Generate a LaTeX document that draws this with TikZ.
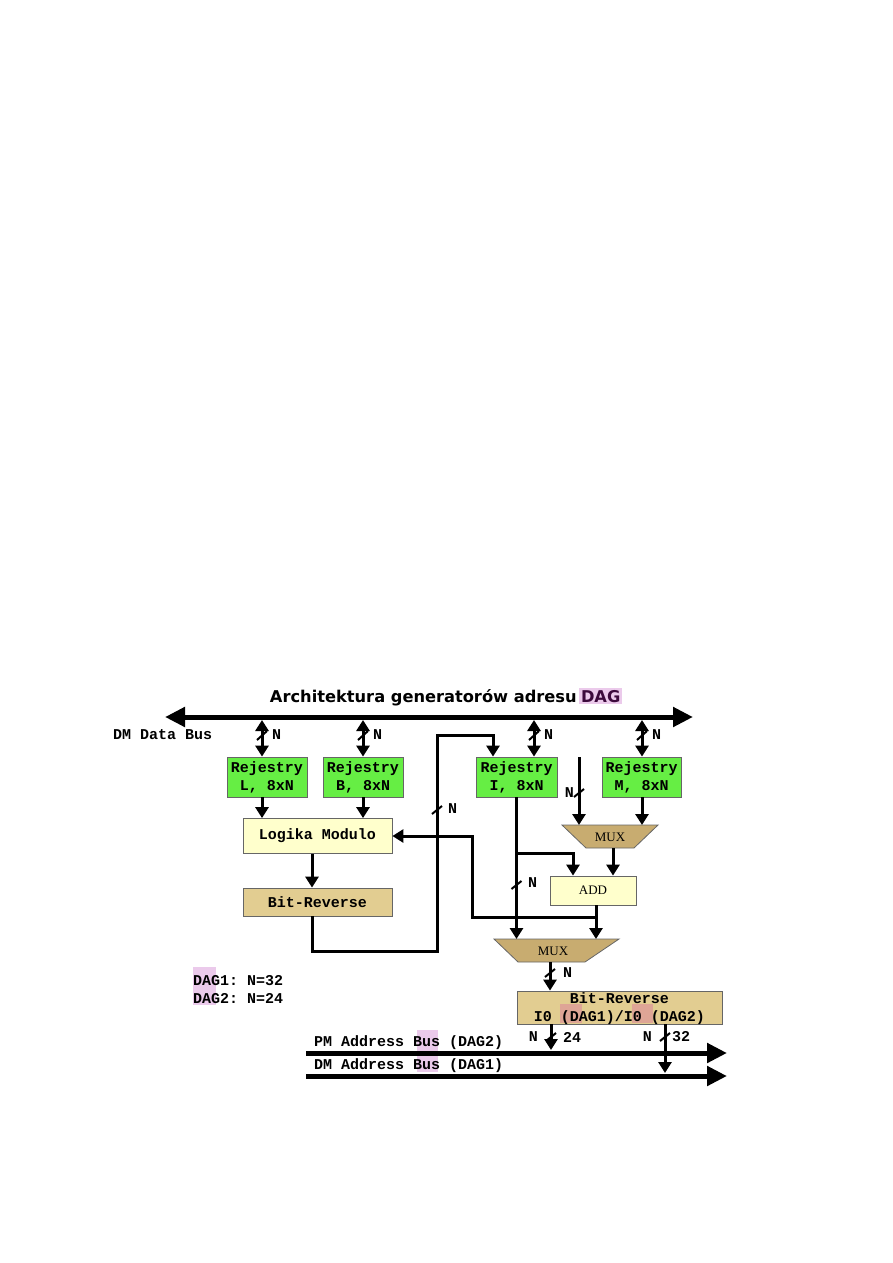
\documentclass[tikz,border=0pt]{standalone}
\usepackage{fontspec}
\usepackage{graphicx}
\setmainfont{Liberation Serif}
\setmonofont{Liberation Mono}
\newfontfamily\titlefont{DejaVu Sans}
\usetikzlibrary{arrows.meta}
\definecolor{rgreen}{RGB}{102,238,68}
\definecolor{lyellow}{RGB}{255,255,204}
\definecolor{tanlight}{RGB}{226,205,145}
\definecolor{muxtan}{RGB}{200,172,112}
\definecolor{hl}{RGB}{235,202,235}
\definecolor{hlb}{RGB}{222,165,150}
\definecolor{dagtext}{RGB}{60,10,60}
\begin{document}
\begin{tikzpicture}[x=1pt,y=-1pt,
  mono/.style={font=\ttfamily\bfseries\fontsize{15}{18}\selectfont, inner sep=0pt},
  serif/.style={font=\rmfamily\fontsize{13}{15}\selectfont, inner sep=0pt},
  boxst/.style={draw=black!60, line width=0.8pt, inner sep=0pt, align=center},
  reg/.style={boxst, mono, fill=rgreen, minimum height=40pt},
  yel/.style={boxst, fill=lyellow},
  tanbox/.style={boxst, fill=tanlight},
  muxst/.style={draw=black!60, line width=0.8pt, fill=muxtan},
  ln/.style={line width=3pt},
  arr/.style={line width=3pt, -{Triangle[length=11pt,width=13pt]}},
  bi/.style={line width=3pt, {Triangle[length=11pt,width=13pt]}-{Triangle[length=11pt,width=13pt]}},
  bus/.style={line width=5pt, -{Triangle[length=20pt,width=19pt]}},
  bibus/.style={line width=5pt, {Triangle[length=20pt,width=19pt]}-{Triangle[length=20pt,width=19pt]}},
  slashst/.style={line width=2pt}
]
\useasboundingbox (0,0) rectangle (893,1263);

% title
\node[inner sep=0pt] (title) at (446,697) {\resizebox{352pt}{!}{\titlefont\bfseries Architektura generatorów adresu\,{\setlength{\fboxsep}{1pt}\colorbox{hl}{\color{dagtext}DAG}}}};

% DM data bus
\coordinate (busW) at (165,717);
\coordinate (busE) at (693,717);
\draw[bibus] (busW) -- (busE);
\node[mono, anchor=west] (dmlabel) at (113,735) {DM Data Bus};

% registers
\node[reg, minimum width=80pt] (regL) at (267,777) {Rejestry\\L, 8xN};
\node[reg, minimum width=80pt] (regB) at (363,777) {Rejestry\\B, 8xN};
\node[reg, minimum width=81pt] (regI) at (516.5,777) {Rejestry\\I, 8xN};
\node[reg, minimum width=79pt] (regM) at (641.5,777) {Rejestry\\M, 8xN};

% other boxes
\node[yel, mono, minimum width=149pt, minimum height=35pt] (logika) at (317.5,836) {Logika Modulo};
\node[tanbox, mono, minimum width=149pt, minimum height=28pt] (br1) at (317.5,902) {Bit-Reverse};
\node[yel, serif, minimum width=86pt, minimum height=29pt] (add) at (593,890.5) {ADD};
\node[tanbox, minimum width=205pt, minimum height=33pt] (br2) at (619.5,1007.5) {};
\fill[hlb] (560,1004) rectangle (582,1023);
\fill[hlb] (632,1004) rectangle (653,1023);
\node[mono, align=center] (br2t) at (619.5,1009) {Bit-Reverse\\I0 (DAG1)/I0 (DAG2)};

% MUXes
\draw[muxst] (562,825) -- (658,825) -- (634,848) -- (586,848) -- cycle;
\node[serif] (mux1) at (610,837) {MUX};
\draw[muxst] (494,939) -- (619,939) -- (585,962) -- (518,962) -- cycle;
\node[serif] (mux2) at (553,951) {MUX};

% bus taps
\coordinate (tL) at (262,720);
\coordinate (tB) at (363,720);
\coordinate (tI) at (534,720);
\coordinate (tM) at (642,720);
\draw[bi] (tL) -- (tL |- regL.north);
\draw[bi] (tB) -- (tB |- regB.north);
\draw[bi] (tI) -- (tI |- regI.north);
\draw[bi] (tM) -- (tM |- regM.north);
\foreach \c in {tL,tB,tI,tM}{
  \draw[slashst] ([shift={(-5,20)}]\c) -- ([shift={(5,11)}]\c);
}
\node[mono, anchor=west] (nL) at (272,735) {N};
\node[mono, anchor=west] (nB) at (373,735) {N};
\node[mono, anchor=west] (nI) at (544,735) {N};
\node[mono, anchor=west] (nM) at (652,735) {N};

% registers L,B -> Logika
\draw[arr] (regL.south -| tL) -- (logika.north -| tL);
\draw[arr] (regB.south -| tB) -- (logika.north -| tB);

% Logika -> Bit-Reverse
\coordinate (c312) at (312,900);
\draw[arr] (logika.south -| c312) -- (br1.north -| c312);

% feedback Bit-Reverse -> I
\coordinate (fbA) at (437,951);
\coordinate (fbB) at (493,735);
\draw[arr] (br1.south -| c312) |- (fbA) |- (fbB) -- (fbB |- regI.north);
\coordinate (s1) at (437,810);
\draw[slashst] ([shift={(-5,4)}]s1) -- ([shift={(5,-4)}]s1);
\node[mono, anchor=west] (n1) at (448,809) {N};

% I -> lower MUX
\coordinate (m2L) at (516.5,939);
\draw[arr] (regI.south) -- (m2L);
\coordinate (j1) at (516.5,853);
\coordinate (a573) at (573,870);
\draw[arr] (j1) -| (add.north -| a573);
\coordinate (s2) at (516.5,885);
\draw[slashst] ([shift={(-5,4)}]s2) -- ([shift={(5,-4)}]s2);
\node[mono, anchor=west] (n2) at (528,883) {N};

% external input -> upper MUX
\coordinate (inTop) at (579,757);
\draw[arr] (inTop) -- (579,825);
\coordinate (s3) at (579,793);
\draw[slashst] ([shift={(-5,4)}]s3) -- ([shift={(5,-4)}]s3);
\node[mono, anchor=east] (n3) at (574,793) {N};

% M -> upper MUX
\draw[arr] (regM.south -| tM) -- (642,825);

% upper MUX -> ADD
\coordinate (m1o) at (613,848);
\draw[arr] (m1o) -- (add.north -| m1o);

% ADD -> lower MUX and feedback to Logika
\coordinate (aX) at (596,917);
\draw[arr] (add.south -| aX) -- (596,939);
\coordinate (fbC) at (472,917);
\draw[arr] (aX) -- (fbC) |- (logika.east);

% lower MUX -> Bit-Reverse
\coordinate (m2o) at (550,962);
\draw[arr] (m2o) -- (br2.north -| m2o);
\coordinate (s4) at (550,973);
\draw[slashst] ([shift={(-5,4)}]s4) -- ([shift={(5,-4)}]s4);
\node[mono, anchor=west] (n4) at (563,973) {N};

% address buses
\coordinate (pmW) at (306,1053);
\coordinate (pmE) at (727,1053);
\coordinate (dmW) at (306,1076);
\coordinate (dmE) at (727,1076);
\fill[hl] (417,1030) rectangle (438,1072);
\node[mono, anchor=west] (pmlabel) at (314,1043) {PM Address Bus (DAG2)};
\node[mono, anchor=west] (dmalabel) at (314,1066) {DM Address Bus (DAG1)};
\draw[bus] (pmW) -- (pmE);
\draw[bus] (dmW) -- (dmE);

% outputs
\coordinate (o1) at (551,1050);
\coordinate (o2) at (665,1073);
\draw[arr] (br2.south -| o1) -- (o1);
\draw[arr] (br2.south -| o2) -- (o2);
\coordinate (s5) at (551,1037);
\coordinate (s6) at (665,1037);
\draw[slashst] ([shift={(-5,4)}]s5) -- ([shift={(5,-4)}]s5);
\draw[slashst] ([shift={(-5,4)}]s6) -- ([shift={(5,-4)}]s6);
\node[mono, anchor=east] (n5) at (538,1037) {N};
\node[mono, anchor=west] (v24) at (563,1037) {24};
\node[mono, anchor=east] (n6) at (652,1037) {N};
\node[mono, anchor=west] (v32) at (672,1037) {32};

% legend
\fill[hl] (193,967) rectangle (216,1005);
\node[mono, anchor=west] (leg1) at (193,981) {DAG1: N=32};
\node[mono, anchor=west] (leg2) at (193,999) {DAG2: N=24};
\end{tikzpicture}
\end{document}
